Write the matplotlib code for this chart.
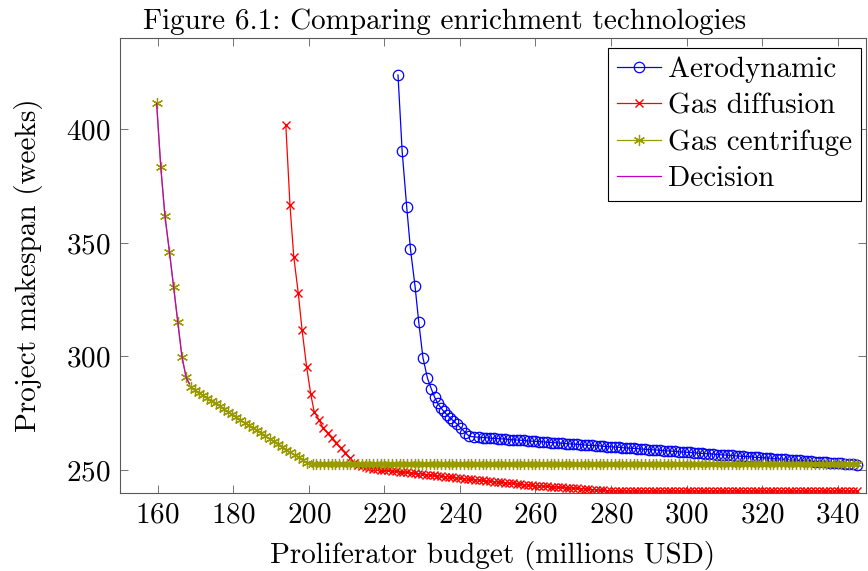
import matplotlib
matplotlib.use("Agg")
import matplotlib.pyplot as plt

# Makespan vs budget for each enrichment technology
aero_x = [223.6, 224.7, 225.9, 226.9, 228.1, 229.1, 230.2, 231.4, 232.4, 233.3,
          234.1, 234.9, 235.7, 236.5, 237.3, 238.2, 239.2, 240.3, 241.4, 242.5,
          243.7] + list(range(245, 346))
aero_y = [423.9, 390.3, 365.9, 347.2, 331.1, 315.0, 299.5, 290.4, 285.8, 282.0,
          279.4, 277.5, 275.8, 274.4, 273.1, 271.7, 270.2, 268.4, 266.5, 264.8,
          264.6,
          264.4, 264.3, 264.2, 264.0, 263.9, 263.8, 263.7, 263.6, 263.4, 263.3,
          263.2, 263.1, 263.0, 262.8, 262.7, 262.6, 262.5, 262.4, 262.2, 262.1,
          262.0, 261.9, 261.8, 261.6, 261.5, 261.4, 261.3, 261.2, 261.0, 260.9,
          260.8, 260.7, 260.6, 260.4, 260.3, 260.2, 260.1, 260.0, 259.8, 259.7,
          259.6, 259.5, 259.4, 259.2, 259.1, 259.0, 258.9, 258.8, 258.6, 258.5,
          258.4, 258.3, 258.2, 258.0, 257.9, 257.8, 257.7, 257.6, 257.4, 257.3,
          257.2, 257.1, 257.0, 256.8, 256.7, 256.6, 256.5, 256.4, 256.2, 256.1,
          256.0, 255.9, 255.8, 255.6, 255.5, 255.4, 255.3, 255.2, 255.0, 254.9,
          254.8, 254.7, 254.6, 254.4, 254.3, 254.2, 254.1, 254.0, 253.8, 253.7,
          253.6, 253.5, 253.4, 253.2, 253.1, 253.0, 252.9, 252.8, 252.6, 252.5,
          252.4]

diff_x = [193.9, 195.0, 196.0, 197.2, 198.2, 199.4, 200.5, 201.4, 202.7, 203.8,
          205.0, 206.2, 207.3, 208.5, 209.7, 210.9, 212.0] + list(range(213, 346))
diff_y = [401.9, 366.7, 343.9, 327.8, 311.7, 295.5, 283.4, 275.7, 272.0, 268.4,
          266.2, 264.0, 261.8, 259.6, 257.4, 255.2, 253.0,
          252.3, 251.7, 251.2, 250.8, 250.5, 250.3, 250.1, 249.9, 249.8, 249.6,
          249.4, 249.2, 249.1, 248.9, 248.7, 248.5, 248.4, 248.2, 248.0, 247.8,
          247.7, 247.5, 247.3, 247.1, 247.0, 246.8, 246.6, 246.4, 246.2, 246.1,
          245.9, 245.7, 245.6, 245.4, 245.2, 245.1, 244.9, 244.7, 244.6, 244.4,
          244.2, 244.1, 243.9, 243.8, 243.6, 243.4, 243.3, 243.1, 243.0, 242.9,
          242.8, 242.7, 242.6, 242.4, 242.3, 242.2, 242.1, 242.0, 241.9, 241.8,
          241.7, 241.6, 241.4, 241.2, 241.1, 241.0, 240.8] + [240.7] * 66

cent_x = [159.7, 160.8, 161.9, 163.1, 164.2, 165.3, 166.4, 167.5,
          168.7, 169.8, 170.9, 172.0, 173.1, 174.2, 175.3, 176.4, 177.5, 178.6,
          179.7, 180.8, 181.9, 183.0, 184.1, 185.2, 186.3, 187.4, 188.5, 189.6,
          190.7, 191.8, 192.9, 194.0, 195.1, 196.2, 197.3, 198.4, 199.5] + list(range(201, 346))
cent_y = [411.4, 383.3, 361.8, 345.9, 330.5, 315.1, 299.9, 290.8,
          286.4, 285.2, 284.0, 282.8, 281.6, 280.5, 279.3, 278.1, 276.9, 275.7,
          274.5, 273.3, 272.1, 270.9, 269.7, 268.6, 267.4, 266.2, 265.0, 263.8,
          262.6, 261.4, 260.2, 259.0, 257.8, 256.7, 255.5, 254.3, 253.1] + [252.5] * 145

dec_x = [159.7, 160.8, 161.9, 163.1, 164.2, 165.3, 166.4, 167.5, 168.4]
dec_y = [411.4, 383.3, 361.8, 345.9, 330.5, 315.1, 299.9, 290.8, 288.0]

plt.rcParams['font.family'] = 'serif'
plt.rcParams['font.serif'] = ['cmr10']
plt.rcParams['axes.formatter.use_mathtext'] = True
plt.rcParams['font.size'] = 21

fig = plt.figure(figsize=(8.68, 5.71), dpi=100)
ax = fig.add_axes([120/868, 1 - 492.7/571, 746/868, (492.7 - 38)/571])

lw = 0.9
ax.plot(aero_x, aero_y, color='blue', lw=lw, marker='o', ms=7.5, mfc='none',
        mew=0.9, label='Aerodynamic')
ax.plot(diff_x, diff_y, color='red', lw=lw, marker='x', ms=6,
        mew=1.0, label='Gas diffusion')
ax.plot(cent_x, cent_y, color='#999900', lw=lw, marker=(6, 2, 0), ms=8,
        mew=0.9, label='Gas centrifuge')
ax.plot(dec_x, dec_y, color='#c000c0', lw=lw, label='Decision')

ax.set_xlim(150, 347.5)
ax.set_ylim(240, 440.2)
ax.set_xticks(range(160, 341, 20))
ax.set_yticks([250, 300, 350, 400])

ax.tick_params(direction='in', top=True, right=True, length=6, width=0.7,
               color='0.45')
ax.tick_params(axis='x', pad=7)
ax.tick_params(axis='y', pad=7)
for s in ax.spines.values():
    s.set_linewidth(0.8)
    s.set_color('0.35')

ax.set_xlabel('Proliferator budget (millions USD)', labelpad=9)
ax.set_ylabel('Project makespan (weeks)', labelpad=16)

leg = ax.legend(loc='upper right', bbox_to_anchor=(1 - 5/746, 1 - 10/455),
                borderaxespad=0, numpoints=1, fancybox=False, framealpha=1,
                edgecolor='black', handlelength=1.5, handletextpad=0.25,
                labelspacing=0.34, borderpad=0.3)
leg.get_frame().set_linewidth(0.8)

fig.text(445/868, 1 - 29/571, 'Figure 6.1: Comparing enrichment technologies',
         ha='center', va='baseline')

fig.savefig('out.png', dpi=100)
